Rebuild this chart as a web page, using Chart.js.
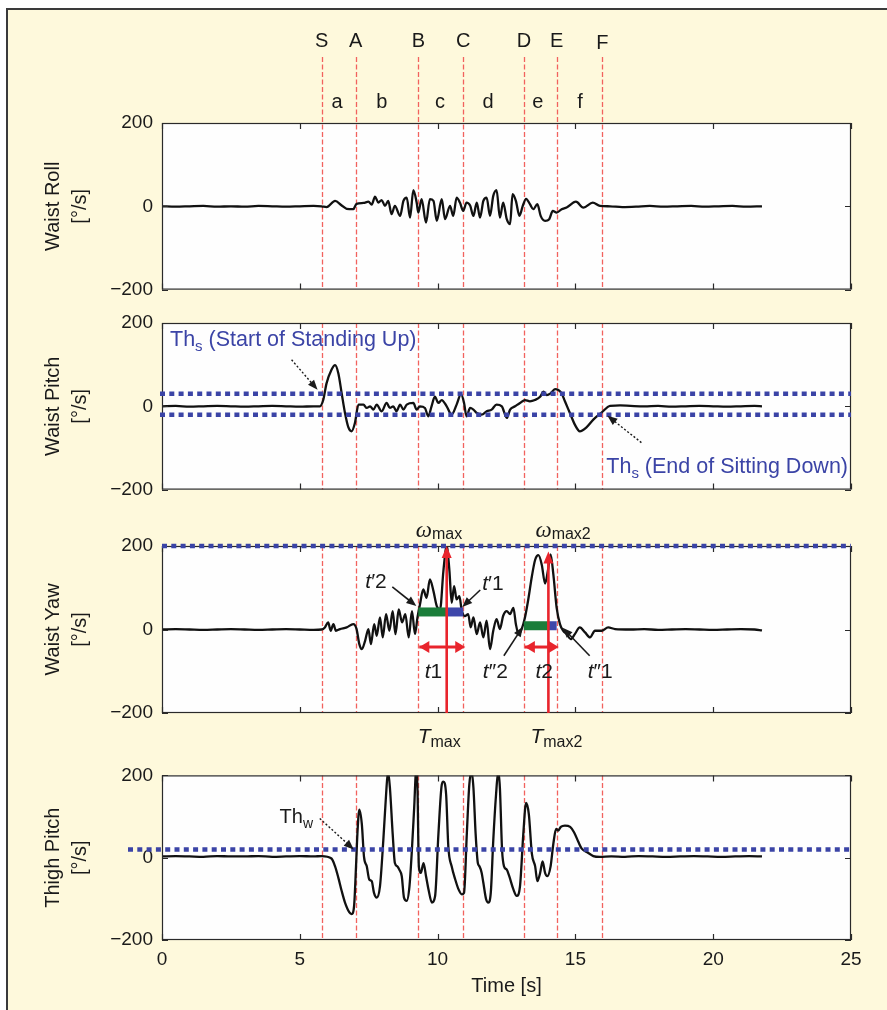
<!DOCTYPE html>
<html><head><meta charset="utf-8">
<script src="https://cdn.jsdelivr.net/npm/chart.js@4.4.0/dist/chart.umd.min.js"></script>
<style>
html,body{margin:0;padding:0;background:#fff;width:887px;height:1010px;overflow:hidden;}
#frame{position:absolute;left:6px;top:8px;width:900px;height:1020px;border:2px solid #3a3a3a;background:#fef9dc;box-sizing:border-box;}
canvas{position:absolute;left:0;}
</style></head><body>
<div id="frame"></div>
<canvas id="c1" width="887" height="310" style="top:0px"></canvas>
<canvas id="c2" width="887" height="210" style="top:300px"></canvas>
<canvas id="c3" width="887" height="255" style="top:500px"></canvas>
<canvas id="c4" width="887" height="255" style="top:755px"></canvas>
<script>
// ---------- data ----------
const eventTimes  = [5.79, 7.03, 9.30, 10.93, 13.13, 14.32, 15.98];
const eventLabels = ['S','A','B','C','D','E','F'];
const phaseLabels = ['a','b','c','d','e','f'];
const phaseLabelT = [6.35, 7.98, 10.09, 11.83, 13.64, 15.17];
const xTicks = [0,5,10,15,20,25];
const yTicks = [-200,0,200];

const rollT = [0,0.5,1,1.5,2,2.5,3,3.5,4,4.5,5,5.5,
  5.79,5.97,6.28,6.52,6.70,6.94,7.06,7.31,7.49,7.61,
  7.73,7.85,7.97,8.09,8.21,8.33,8.45,8.64,8.76,8.88,
  9.00,9.12,9.24,9.30,9.42,9.58,9.72,9.85,9.97,10.15,
  10.27,10.45,10.57,10.69,10.81,10.93,11.05,11.18,11.30,11.42,
  11.54,11.66,11.78,11.90,12.02,12.14,12.26,12.38,12.51,12.63,
  12.72,12.84,12.97,13.09,13.21,13.35,13.47,13.62,13.74,13.90,
  14.05,14.18,14.32,14.50,14.68,15.02,15.29,15.63,15.89,16.26,
  16.7,17.2,17.7,18.2,18.7,19.2,19.7,20.2,20.7,21.2,21.77];
const rollV = [0,-1,0,1,-1,0,-1,1,0,-1,0,1,
  0,-2,13,2,-6,-7,6,8,11,4,
  23,9,15,1,13,-19,1,-23,13,21,
  -27,39,9,-15,17,-39,17,13,-35,17,
  -31,1,-23,21,9,-11,9,2,-23,9,
  -27,13,21,-23,25,39,-27,9,-31,-43,
  29,13,-23,1,18,5,-7,5,-23,-35,
  -31,-11,-15,-7,-3,11,-3,9,1,0,
  -2,-1,1,-1,0,1,-1,0,1,-1,0];

const pitchT = [0,0.5,1,1.5,2,2.5,3,3.5,4,4.5,5,5.5,
  5.73,5.85,5.97,6.15,6.28,6.40,6.52,6.64,6.76,6.88,
  7.00,7.13,7.31,7.43,7.55,7.67,7.79,7.97,8.15,8.27,
  8.39,8.51,8.64,8.76,8.88,9.12,9.24,9.36,9.54,9.66,
  9.78,9.90,10.03,10.15,10.33,10.51,10.69,10.85,10.96,11.05,
  11.18,11.30,11.42,11.60,11.78,11.96,12.14,12.33,12.51,12.63,
  12.81,12.99,13.17,13.35,13.53,13.72,13.84,13.96,14.10,14.26,
  14.38,14.50,14.62,14.80,14.98,15.16,15.41,15.65,15.95,16.26,
  16.62,17.0,17.5,18.0,18.5,19.0,19.5,20.0,20.5,21.0,21.5,21.77];
const pitchV = [0,1,-1,0,1,0,-1,0,1,0,-1,0,
  0,15,55,88,99,79,31,-16,-50,-60,
  -40,4,4,-4,0,-8,4,-12,8,-4,
  0,-12,4,-8,4,8,-8,0,-4,-24,
  0,23,8,15,0,-20,4,29,8,-24,
  -4,-8,-16,-20,-12,-8,4,0,-28,-8,
  0,8,15,12,15,23,35,27,31,41,
  39,31,12,-16,-44,-60,-50,-32,-15,1,
  2,1,0,1,-1,0,1,0,-1,0,1,0];

const yawT = [0,0.5,1,1.5,2,2.5,3,3.5,4,4.5,5,5.5,
  5.79,5.91,6.03,6.12,6.22,6.31,6.46,6.70,6.94,7.06,
  7.16,7.25,7.37,7.49,7.58,7.70,7.79,7.91,8.01,8.13,
  8.25,8.37,8.47,8.59,8.71,8.83,8.95,9.07,9.18,9.27,
  9.36,9.48,9.60,9.72,9.85,9.97,10.09,10.21,10.33,10.43,
  10.51,10.60,10.69,10.79,10.87,10.99,11.11,11.20,11.30,11.42,
  11.54,11.66,11.78,11.90,12.02,12.14,12.26,12.38,12.51,12.63,
  12.75,12.84,12.94,13.05,13.17,13.29,13.42,13.54,13.66,13.78,
  13.90,14.00,14.10,14.20,14.32,14.44,14.56,14.68,14.83,14.98,
  15.16,15.35,15.53,15.71,15.95,16.19,16.44,
  17.0,17.5,18.0,18.5,19.0,19.5,20.0,20.5,21.0,21.5,21.77];
const yawV = [0,1,0,-1,0,1,0,-1,0,1,0,-1,
  0,5,17,-3,13,-3,1,5,13,1,
  -35,-47,-27,1,-35,13,-15,29,-19,37,
  -3,44,-11,48,17,37,-19,44,-11,29,
  60,96,76,120,92,56,48,140,200,140,
  64,104,72,80,48,32,37,5,29,-11,
  17,-19,21,-47,-3,25,1,33,44,37,
  52,13,-11,1,29,72,127,167,178,155,
  110,140,180,132,52,13,-3,-11,-23,-11,
  5,-7,-19,-3,-3,5,1,
  0,1,-1,0,1,0,-1,0,1,0,-2,0];

const thighT = [0,0.5,1,1.5,2,2.5,3,3.5,4,4.5,5,5.5,
  5.79,6.15,6.28,6.40,6.52,6.64,6.80,6.88,6.97,7.04,
  7.09,7.16,7.25,7.33,7.43,7.52,7.61,7.69,7.79,7.91,
  8.03,8.13,8.20,8.27,8.37,8.45,8.54,8.61,8.70,8.78,
  8.88,8.98,9.06,9.15,9.22,9.27,9.32,9.39,9.49,9.58,
  9.67,9.79,9.91,10.03,10.15,10.21,10.31,10.39,10.51,10.64,
  10.76,10.88,10.96,11.06,11.15,11.23,11.30,11.38,11.46,11.52,
  11.60,11.66,11.76,11.84,11.93,12.02,12.12,12.20,12.26,12.34,
  12.41,12.51,12.60,12.75,12.87,12.99,13.11,13.21,13.31,13.42,
  13.54,13.62,13.72,13.81,13.90,13.98,14.10,14.20,14.30,14.38,
  14.47,14.62,14.81,14.95,15.11,15.23,15.41,15.65,15.89,
  16.3,16.8,17.3,17.8,18.3,18.8,19.3,19.8,20.3,20.8,21.3,21.77];
const thighV = [3,4,3,2,4,3,3,4,2,3,4,3,
  4,-2,-21,-49,-81,-109,-133,-137,-117,-21,
  58,117,82,2,-21,-53,-57,-85,-97,-69,
  42,153,210,170,58,-13,-21,-29,-45,-97,
  -105,-69,10,121,210,169,-21,-37,-13,-45,
  -77,-109,-93,58,177,185,153,26,-21,-53,
  -77,-89,-85,58,177,210,170,58,-13,-21,
  -37,-61,-101,-109,-85,42,153,210,170,18,
  -21,-29,-45,-77,-93,-69,58,133,106,10,
  -21,-57,-37,-9,-37,-45,-21,34,70,66,
  75,78,75,62,38,22,14,4,2,
  3,2,4,3,2,3,4,3,2,3,4,3];

const pitchThresholds = [30, -20];
const yawThreshold = 200;
const thighThreshold = 20;
const yawPeakT = [10.33, 14.02];
const yawPeakV = [200, 187];
const yawBarV  = [42, 9];
const yawSpanV = [-42, -42];

// ---------- style ----------
const SANS = "'Liberation Sans', Arial, Helvetica, sans-serif";
const SERIF = "'Liberation Serif', 'DejaVu Serif', serif";
const BLUE = '#3b44a6';
const RED = '#e8242c';
const EVT = '#f2625e';
const INK = '#1a1a1a';

function xs(c,v){return c.scales.x.getPixelForValue(v);}
function ys(c,v){return c.scales.y.getPixelForValue(v);}
function f(size, style){return (style||'')+' '+size+'px '+SANS;}

function rich(ctx, x, y, parts, color, align){
  ctx.save(); ctx.fillStyle=color; ctx.textBaseline='alphabetic'; ctx.textAlign='left';
  let w=0; parts.forEach(p=>{ctx.font=p[1]; w+=ctx.measureText(p[0]).width;});
  let cx = align==='right' ? x-w : (align==='center' ? x-w/2 : x);
  parts.forEach(p=>{ctx.font=p[1]; ctx.fillText(p[0], cx, y+(p[2]||0)); cx+=ctx.measureText(p[0]).width;});
  ctx.restore();
}
function head(ctx,x1,y1,x2,y2,len,hw,color){
  const a=Math.atan2(y2-y1,x2-x1), c=Math.cos(a), s=Math.sin(a);
  ctx.save(); ctx.fillStyle=color; ctx.setLineDash([]); ctx.beginPath();
  ctx.moveTo(x2,y2);
  ctx.lineTo(x2-len*c+hw*s, y2-len*s-hw*c);
  ctx.lineTo(x2-len*c-hw*s, y2-len*s+hw*c);
  ctx.closePath(); ctx.fill(); ctx.restore();
}
function arrow(ctx,x1,y1,x2,y2,o){
  const a=Math.atan2(y2-y1,x2-x1);
  ctx.save(); ctx.strokeStyle=o.color; ctx.lineWidth=o.width; ctx.setLineDash(o.dash||[]);
  ctx.beginPath(); ctx.moveTo(x1,y1); ctx.lineTo(x2-o.len*0.8*Math.cos(a), y2-o.len*0.8*Math.sin(a)); ctx.stroke();
  ctx.restore();
  head(ctx,x1,y1,x2,y2,o.len,o.hw,o.color);
  if(o.both) head(ctx,x2,y2,x1,y1,o.len,o.hw,o.color);
}
function dottedH(ctx,x1,x2,y){
  ctx.save(); ctx.strokeStyle=BLUE; ctx.lineWidth=4.5; ctx.setLineDash([5,4.3]);
  ctx.beginPath(); ctx.moveTo(x1,y); ctx.lineTo(x2,y); ctx.stroke(); ctx.restore();
}

const decor = {
  id:'decor',
  beforeDraw(chart){
    const {ctx, chartArea:a} = chart;
    ctx.save(); ctx.fillStyle='#fefefe'; ctx.fillRect(a.left,a.top,a.right-a.left,a.bottom-a.top); ctx.restore();
  },
  beforeDatasetsDraw(chart, args, o){
    const {ctx, chartArea:a} = chart;
    const top = o.panel===1 ? 57 : a.top;
    ctx.save(); ctx.strokeStyle=EVT; ctx.lineWidth=1.3; ctx.setLineDash([5,2.5]);
    eventTimes.forEach(t=>{const x=Math.round(xs(chart,t))+0.5; ctx.beginPath(); ctx.moveTo(x,top); ctx.lineTo(x,a.bottom); ctx.stroke();});
    ctx.restore();
  },
  afterDatasetsDraw(chart, args, o){
    const {ctx, chartArea:a} = chart;
    ctx.save(); ctx.strokeStyle='#2a2a2a'; ctx.lineWidth=1.2;
    ctx.strokeRect(a.left+0.5,a.top+0.5,a.right-a.left-1,a.bottom-a.top-1);
    ctx.beginPath();
    xTicks.forEach(v=>{const x=Math.round(xs(chart,v))+0.5; ctx.moveTo(x,a.top); ctx.lineTo(x,a.top+6); ctx.moveTo(x,a.bottom); ctx.lineTo(x,a.bottom-6);});
    yTicks.forEach(v=>{const y=Math.round(ys(chart,v))+0.5; ctx.moveTo(a.left,y); ctx.lineTo(a.left+6,y); ctx.moveTo(a.right,y); ctx.lineTo(a.right-6,y);});
    ctx.stroke(); ctx.restore();
    if(o.panel===1) panel1(chart);
    if(o.panel===2) panel2(chart);
    if(o.panel===3) panel3(chart);
    if(o.panel===4) panel4(chart);
  }
};

function panel1(chart){
  const {ctx} = chart;
  ctx.save(); ctx.fillStyle=INK; ctx.textAlign='center'; ctx.textBaseline='alphabetic';
  ctx.font=f(20);
  eventTimes.forEach((t,i)=>ctx.fillText(eventLabels[i], xs(chart,t), i===6?49:47));
  phaseLabelT.forEach((t,i)=>ctx.fillText(phaseLabels[i], xs(chart,t), 108));
  ctx.restore();
}
function panel2(chart){
  const {ctx, chartArea:a} = chart;
  pitchThresholds.forEach(v=>dottedH(ctx, a.left-2, a.right, ys(chart,v)));
  rich(ctx, a.left+8, a.top+23, [['Th',f(21.5)],['s',f(15),5],[' (Start of Standing Up)',f(21.5)]], BLUE, 'left');
  const p1={x:xs(chart,eventTimes[0])-4, y:ys(chart,pitchThresholds[0])-4};
  arrow(ctx,p1.x-26,p1.y-30,p1.x,p1.y,{color:INK,width:1.4,dash:[2,2],len:10,hw:4});
  rich(ctx, a.right-3, a.bottom-17, [['Th',f(21.5)],['s',f(15),5],[' (End of Sitting Down)',f(21.5)]], BLUE, 'right');
  const p2={x:xs(chart,eventTimes[6])+5, y:ys(chart,pitchThresholds[1])+1};
  arrow(ctx,p2.x+34,p2.y+27,p2.x,p2.y,{color:INK,width:1.4,dash:[2,2],len:10,hw:4});
}
function panel3(chart){
  const {ctx, chartArea:a} = chart;
  dottedH(ctx, a.left, a.right, ys(chart,yawThreshold));
  const starts=[eventTimes[2], eventTimes[4]], ends=[eventTimes[3], eventTimes[5]];
  for(let i=0;i<2;i++){
    const y=ys(chart,yawBarV[i]), x0=xs(chart,starts[i]), xm=xs(chart,yawPeakT[i]), x1=xs(chart,ends[i]);
    ctx.fillStyle='#1b7d3a'; ctx.fillRect(x0,y-4.5,xm-x0-0.5,9);
    ctx.fillStyle='#3e47aa'; ctx.fillRect(xm+0.5,y-4.5,x1-xm-0.5,9);
  }
  for(let i=0;i<2;i++){
    const x=xs(chart,yawPeakT[i]);
    arrow(ctx,x,a.bottom,x,ys(chart,yawPeakV[i]),{color:RED,width:2.6,len:12,hw:5});
    const y=ys(chart,yawSpanV[i]);
    arrow(ctx,xs(chart,starts[i])+1,y,xs(chart,ends[i])+2,y,{color:RED,width:3,len:10,hw:6,both:true});
  }
  const om=(x,sub)=>rich(ctx,x,a.top-9,[['\u03c9','italic 23px '+SERIF],[sub,f(16),2]],INK,'left');
  om(xs(chart,yawPeakT[0])-31,'max');
  om(xs(chart,yawPeakT[1])-13,'max2');
  const T=(x,sub)=>rich(ctx,x,a.bottom+30,[['T',f(21,'italic')],[sub,f(16),4]],INK,'left');
  T(xs(chart,yawPeakT[0])-29,'max');
  T(xs(chart,yawPeakT[1])-18,'max2');
  const tl=(x,y,p,sub)=>rich(ctx,x,y,[['t',f(21,'italic')],[p+sub,f(21)]],INK,'left');
  const yb0=ys(chart,yawBarV[0]), yb1=ys(chart,yawBarV[1]), ysp=ys(chart,yawSpanV[0]);
  const xB=xs(chart,eventTimes[2]), xC=xs(chart,eventTimes[3]), xD=xs(chart,eventTimes[4]), xE=xs(chart,eventTimes[5]);
  tl(xB-53, yb0-24, '\u2032','2');
  tl(xC+19, yb0-22, '\u2032','1');
  tl(xs(chart,yawPeakT[0])-22, ysp+31, '', '1');
  tl(xD-41, ysp+31, '\u2033','2');
  tl(xs(chart,yawPeakT[1])-13, ysp+31, '', '2');
  tl(xE+31, ysp+31, '\u2033','1');
  const ao={color:INK,width:1.6,len:10,hw:4};
  arrow(ctx,xB-26,yb0-25,xB-2,yb0-6,ao);
  arrow(ctx,xC+17,yb0-22,xC-1,yb0-5,ao);
  arrow(ctx,xD-20,yb1+30,xD-1,yb1+1,ao);
  arrow(ctx,xE+33,yb1+30,xE+6,yb1+2,ao);
}
function panel4(chart){
  const {ctx, chartArea:a} = chart;
  dottedH(ctx, 128, a.right, ys(chart,thighThreshold));
  const xS=xs(chart,eventTimes[0]), xA=xs(chart,eventTimes[1]), yT=ys(chart,thighThreshold);
  rich(ctx, xS-42, a.top+48, [['Th',f(20)],['w',f(14),5]], INK, 'left');
  arrow(ctx,xA-36,yT-31,xA-2,yT,{color:INK,width:1.4,dash:[2,2],len:10,hw:4});
}

function makeChart(id, t, v, name, panel, padTop, padBottom, showX){
  const n=Math.min(t.length,v.length);
  const pts=[]; for(let i=0;i<n;i++) pts.push({x:t[i],y:v[i]});
  const xScale = {type:'linear', min:0, max:25, display:showX,
     afterBuildTicks:s=>{s.ticks=xTicks.map(val=>({value:val}));},
     grid:{display:false, drawTicks:false}, border:{display:false},
     ticks:{font:{family:SANS,size:19}, color:INK, padding:8, maxRotation:0},
     title:{display:showX, text:'Time [s]', color:INK, font:{family:SANS,size:20,lineHeight:1.2}, padding:{top:0,bottom:2}}};
  if(showX) xScale.afterFit = s=>{s.height=60;};
  return new Chart(document.getElementById(id), {
    type:'line',
    data:{datasets:[{data:pts, borderColor:'#111', borderWidth:2.3, pointRadius:0, cubicInterpolationMode:'monotone', fill:false}]},
    options:{
      responsive:false, animation:false, devicePixelRatio:1,
      layout:{padding:{top:padTop, bottom:padBottom, left:0, right:36}},
      plugins:{legend:{display:false}, tooltip:{enabled:false}, decor:{panel:panel}},
      scales:{
        x:xScale,
        y:{type:'linear', min:-200, max:200,
           afterBuildTicks:s=>{s.ticks=yTicks.map(val=>({value:val}));},
           grid:{display:false, drawTicks:false}, border:{display:false},
           ticks:{font:{family:SANS,size:19}, color:INK, padding:9, callback:val=>String(val).replace('-','\u2212')},
           title:{display:true, text:[name,'[\u00b0/s]'], color:INK, font:{family:SANS,size:20,lineHeight:1.35}, padding:{top:40,bottom:0}},
           afterFit:s=>{s.width=162;}}
      }
    },
    plugins:[decor]
  });
}

makeChart('c1', rollT, rollV, 'Waist Roll', 1, 123, 0, false);
makeChart('c2', pitchT, pitchV, 'Waist Pitch', 2, 23, 0, false);
makeChart('c3', yawT, yawV, 'Waist Yaw', 3, 46, 42, false);
makeChart('c4', thighT, thighV, 'Thigh Pitch', 4, 17, 10, true);
</script>
</body></html>
